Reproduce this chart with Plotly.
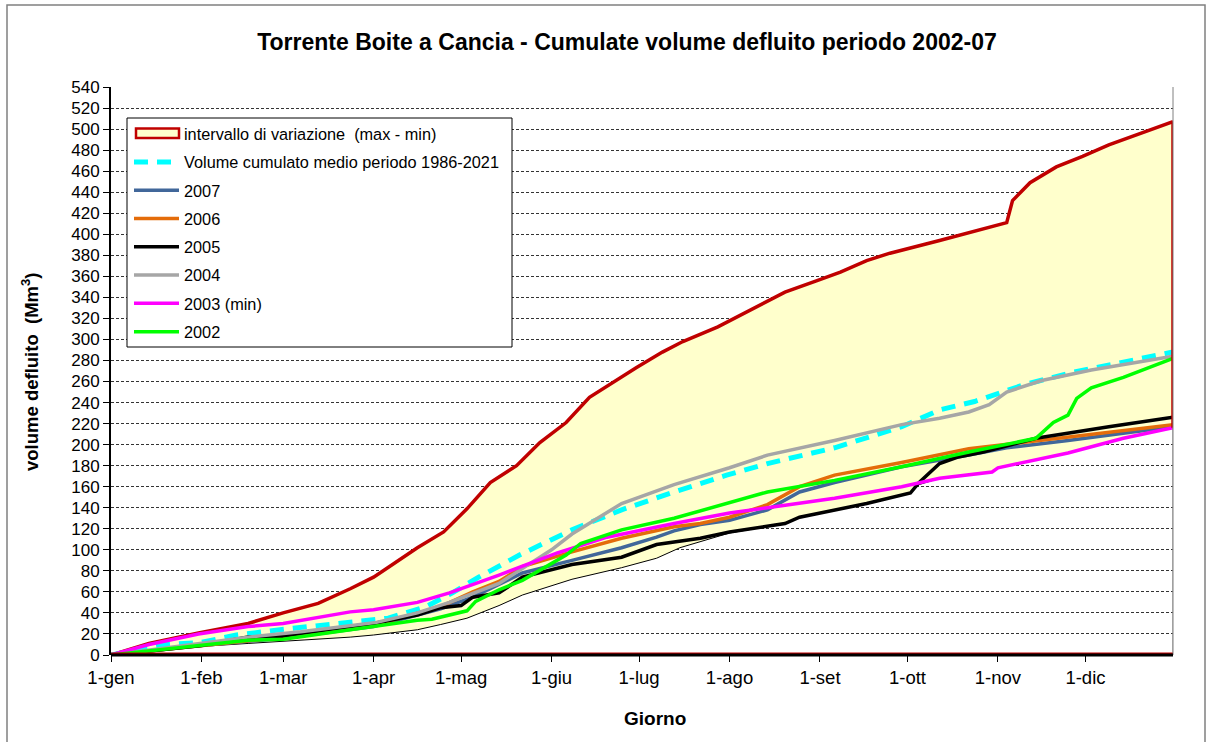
import plotly.graph_objects as go

# Month starts (day of year) and their labels
month_days = [1, 32, 60, 91, 121, 152, 182, 213, 244, 274, 305, 335]
month_labels = ["1-gen", "1-feb", "1-mar", "1-apr", "1-mag", "1-giu",
                "1-lug", "1-ago", "1-set", "1-ott", "1-nov", "1-dic"]

# Upper envelope (max) of the cumulated volume, Mm3
max_days = [1, 14, 31, 48, 60, 72, 83, 91, 98, 106, 115, 123, 131, 140, 148, 157,
            165, 174, 181, 190, 197, 209, 220, 232, 243, 251, 260, 268, 285, 300,
            308, 310, 316, 325, 334, 343, 354, 365]
max_vals = [0, 11, 21, 30, 40, 49, 63, 74, 87, 102, 117, 139, 164, 180, 202, 221,
            245, 261, 273, 288, 298, 312, 328, 345, 356, 364, 375, 382, 394, 405,
            411, 432, 449, 464, 474, 485, 496, 507]

# Lower envelope (min) of the cumulated volume, Mm3
min_days = [1, 31, 48, 60, 83, 91, 106, 114, 123, 134, 142, 159, 176, 188, 196,
            213, 232, 237, 260, 275, 278, 285, 303, 305, 329, 348, 365]
min_vals = [0, 8, 11, 13, 17, 19, 24, 29, 35, 47, 57, 72, 83, 92, 102,
            116, 125, 131, 144, 154, 162, 168, 174, 178, 192, 206, 216]

# Mean cumulated volume 1986-2021
mean_days = [1, 20, 32, 44, 62, 81, 96, 109, 118, 127, 141, 159, 176, 194, 212,
             226, 249, 272, 285, 297, 314, 331, 348, 365]
mean_vals = [0, 10, 12, 19, 25, 31, 35, 46, 59, 74, 95, 119, 138, 155, 171,
             182, 197, 217, 233, 241, 257, 269, 279, 288]

# Single years
y2007_days = [1, 32, 60, 91, 106, 114, 125, 142, 159, 176, 188, 194, 203, 213, 226,
              237, 249, 272, 295, 308, 329, 365]
y2007_vals = [0, 9, 16, 27, 38, 44, 55, 78, 90, 102, 112, 118, 124, 128, 138,
              155, 164, 179, 190, 197, 204, 217]

y2006_days = [1, 32, 60, 91, 106, 114, 125, 134, 142, 159, 176, 194, 203, 213, 226,
              237, 249, 272, 295, 320, 365]
y2006_vals = [0, 9, 17, 28, 40, 46, 60, 70, 84, 98, 111, 122, 125, 131, 143,
              160, 171, 183, 196, 204, 219]

y2005_days = [1, 32, 48, 60, 83, 91, 106, 114, 121, 125, 134, 142, 159, 176, 188,
              203, 213, 232, 237, 260, 275, 278, 285, 291, 300, 318, 343, 365]
y2005_vals = [0, 9, 17, 18, 27, 30, 38, 45, 47, 55, 59, 74, 86, 93, 105,
              111, 117, 125, 131, 144, 154, 164, 182, 188, 193, 206, 217, 226]

y2004_days = [1, 32, 48, 66, 83, 92, 106, 117, 134, 152, 159, 176, 194, 213, 226,
              249, 272, 285, 295, 302, 308, 320, 337, 354, 365]
y2004_vals = [0, 11, 17, 22, 28, 31, 40, 50, 68, 100, 115, 144, 162, 178, 190,
              204, 219, 225, 231, 238, 250, 261, 271, 279, 284]

y2003_days = [1, 14, 31, 48, 60, 83, 91, 106, 117, 134, 154, 171, 194, 213, 226,
              249, 272, 285, 303, 305, 329, 348, 365]
y2003_vals = [0, 10, 20, 27, 30, 41, 43, 50, 59, 76, 97, 112, 125, 135, 140,
              149, 160, 168, 174, 178, 192, 206, 216]

y2002_days = [1, 31, 48, 60, 83, 91, 106, 111, 123, 126, 134, 142, 157, 162, 176,
              194, 213, 226, 249, 272, 295, 318, 324, 329, 332, 337, 348, 365]
y2002_vals = [0, 9, 14, 15, 24, 27, 33, 34, 42, 51, 62, 71, 95, 106, 119,
              130, 145, 155, 166, 179, 193, 206, 221, 228, 244, 254, 264, 282]

FONT = "Liberation Sans, Arial, sans-serif"
RED = "#C00000"
BAND = "#FFFFCC"

# Plot-area geometry in pixels, used to place the frame and legend decorations
L, R, T, B = 111, 1173, 87, 655


def px_x(px):
    return (px - L) / (R - L)


def px_y(py):
    return (B - py) / (B - T)


fig = go.Figure()

# Range of variation: band between min and max envelopes
fig.add_trace(go.Scatter(x=min_days, y=min_vals, mode="lines",
                         line=dict(color="black", width=1),
                         showlegend=False, hoverinfo="skip"))
fig.add_trace(go.Scatter(x=max_days, y=max_vals, mode="lines", fill="tonexty",
                         fillcolor=BAND, line=dict(color=RED, width=3.5),
                         showlegend=False))
# legend entry of the band (its swatch is drawn as a shape below)
fig.add_trace(go.Scatter(x=[max_days[0]], y=[max_vals[0]], mode="lines",
                         line=dict(color="rgba(0,0,0,0)", width=3),
                         name="intervallo di variazione  (max - min)",
                         legendgroup="g0", hoverinfo="skip"))

series = [
    ("Volume cumulato medio periodo 1986-2021", mean_days, mean_vals,
     dict(color="#00FFFF", width=5, dash="14px,9px")),
    ("2007", y2007_days, y2007_vals, dict(color="#41679A", width=3.5)),
    ("2006", y2006_days, y2006_vals, dict(color="#E46C0A", width=3.5)),
    ("2005", y2005_days, y2005_vals, dict(color="black", width=3.5)),
    ("2004", y2004_days, y2004_vals, dict(color="#A6A6A6", width=3.5)),
    ("2003 (min)", y2003_days, y2003_vals, dict(color="#FF00FF", width=3.5)),
    ("2002", y2002_days, y2002_vals, dict(color="#00FF00", width=3.5)),
]
for i, (name, xd, yd, ln) in enumerate(series, start=1):
    fig.add_trace(go.Scatter(x=xd, y=yd, mode="lines", line=ln, name=name,
                             legendgroup=f"g{i}"))

# Closing edges of the band at year end and along zero
fig.add_trace(go.Scatter(x=[max_days[-1], max_days[-1]], y=[min_vals[-1], max_vals[-1]],
                         mode="lines", line=dict(color=RED, width=3.5),
                         showlegend=False, hoverinfo="skip"))
fig.add_trace(go.Scatter(x=[min_days[-1], min_days[-1]], y=[0, min_vals[-1]],
                         mode="lines", line=dict(color="#808080", width=1),
                         showlegend=False, hoverinfo="skip"))
fig.add_trace(go.Scatter(x=[min_days[0], min_days[-1]], y=[0, 0],
                         mode="lines", line=dict(color=RED, width=5),
                         showlegend=False, hoverinfo="skip"))

fig.update_layout(
    width=1209, height=742,
    margin=dict(l=L, r=1209 - R, t=T, b=742 - B),
    paper_bgcolor="white", plot_bgcolor="white",
    font=dict(family=FONT, color="black", size=16),
    title=dict(text="<b>Torrente Boite a Cancia - Cumulate volume defluito periodo 2002-07</b>",
               font=dict(size=23, family=FONT, color="black"),
               xref="container", x=627 / 1209, xanchor="center",
               yref="container", y=1 - 42 / 742, yanchor="middle"),
    showlegend=True,
    legend=dict(x=px_x(129), y=px_y(116.5), xanchor="left", yanchor="top",
                bgcolor="rgba(0,0,0,0)", borderwidth=0,
                font=dict(size=16.3, family=FONT), tracegroupgap=4.1,
                itemwidth=45, traceorder="grouped"),
    xaxis=dict(range=[1, 365], tickmode="array", tickvals=month_days,
               ticktext=month_labels, ticks="outside", ticklen=6,
               tickcolor="black", showgrid=False, zeroline=False,
               showline=False, tickfont=dict(size=18.5, family=FONT)),
    yaxis=dict(range=[0, 540], dtick=20, tick0=0, ticks="outside", ticklen=6,
               tickcolor="black", showgrid=True, gridcolor="#333333",
               griddash="3px,2px", gridwidth=1, zeroline=False,
               showline=True, linecolor="black", linewidth=2,
               tickfont=dict(size=17, family=FONT)),
    annotations=[
        dict(text="<b>Giorno</b>", xref="paper", yref="paper",
             x=px_x(655), y=px_y(718),
             xanchor="center", yanchor="middle", showarrow=False,
             font=dict(size=19, family=FONT)),
        dict(text="<b>volume defluito  (Mm<sup>3</sup>)</b>", xref="paper",
             yref="paper", x=px_x(30), y=px_y(372), textangle=-90,
             xanchor="center", yanchor="middle", showarrow=False,
             font=dict(size=18.5, family=FONT)),
    ],
    shapes=[
        # chart area frame
        dict(type="rect", xref="paper", yref="paper",
             x0=px_x(7), x1=px_x(1205), y0=px_y(760), y1=px_y(5),
             line=dict(color="#808080", width=1.5), layer="below"),
        # right border of the plot area
        dict(type="line", xref="paper", yref="paper", x0=1, x1=1, y0=0, y1=1,
             line=dict(color="#808080", width=1)),
        # base line along zero
        dict(type="line", xref="paper", yref="paper", x0=0, x1=1, y0=0, y1=0,
             line=dict(color="black", width=3)),
        # legend box
        dict(type="rect", xref="paper", yref="paper",
             x0=px_x(127), x1=px_x(512), y0=px_y(347), y1=px_y(118),
             fillcolor="white", line=dict(color="black", width=1), layer="above"),
        # swatch of the variation band in the legend
        dict(type="rect", xref="paper", yref="paper",
             x0=px_x(136), x1=px_x(179), y0=px_y(138), y1=px_y(128.5),
             fillcolor=BAND, line=dict(color=RED, width=2.5), layer="above"),
    ],
)

fig.write_html("out.html")
